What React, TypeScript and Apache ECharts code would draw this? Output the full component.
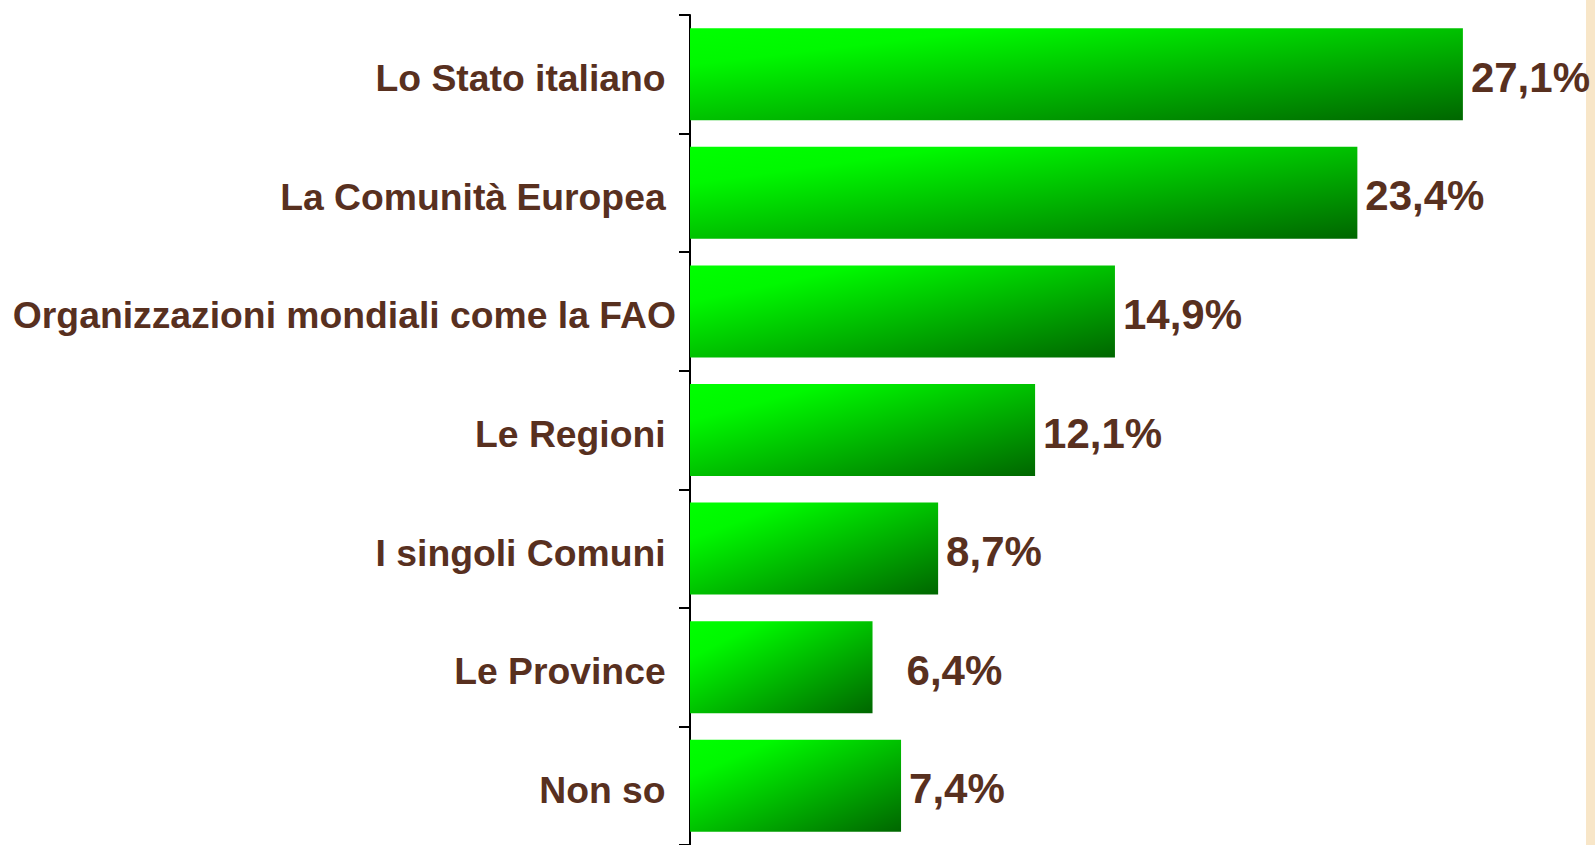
import React, { useEffect, useRef } from "react";
import * as echarts from "echarts";

const categories = [
  "Lo Stato italiano ",
  "La Comunità Europea ",
  "Organizzazioni mondiali come la FAO",
  "Le Regioni ",
  "I singoli Comuni ",
  "Le Province ",
  "Non so ",
];
const values = [27.1, 23.4, 14.9, 12.1, 8.7, 6.4, 7.4];

const BROWN = "#58301f";
const FONT = "'Liberation Sans', Arial, sans-serif";

export default function App() {
  const ref = useRef<HTMLDivElement>(null);
  useEffect(() => {
    document.body.style.margin = "0";
    const chart = echarts.init(ref.current!, null, { renderer: "svg" });
    chart.setOption({
      animation: false,
      backgroundColor: "#ffffff",
      grid: { left: 690, top: 15, width: 855.6, height: 835, containLabel: false },
      xAxis: { type: "value", min: 0, max: 30, show: false },
      yAxis: {
        type: "category",
        inverse: true,
        data: categories,
        axisLine: { show: true, lineStyle: { color: "#000", width: 2 } },
        axisTick: { show: true, length: 11, lineStyle: { color: "#000", width: 2 } },
        axisLabel: {
          margin: 14,
          color: BROWN,
          fontSize: 37.3,
          fontWeight: "bold",
          fontFamily: FONT,
          verticalAlign: "top",
          lineHeight: 8,
        },
      },
      series: [
        {
          type: "bar",
          data: values.map((v, i) =>
            i === 5 ? { value: v, label: { distance: 34 } } : { value: v }
          ),
          barWidth: 92,
          itemStyle: {
            color: new echarts.graphic.LinearGradient(0, 0, 1, 1, [
              { offset: 0, color: "#00ff00" },
              { offset: 0.2, color: "#00f800" },
              { offset: 1, color: "#006600" },
            ]),
          },
          label: {
            show: true,
            position: "right",
            distance: 8,
            offset: [0, 3],
            color: BROWN,
            fontSize: 42,
            fontWeight: "bold",
            fontFamily: FONT,
            formatter: (p: any) => p.value.toFixed(1).replace(".", ",") + "%",
          },
        },
      ],
      graphic: [
        {
          type: "rect",
          shape: { x: 1586, y: 0, width: 9, height: 845 },
          style: { fill: "#f8e6c8" },
          silent: true,
        },
      ],
    });
    return () => chart.dispose();
  }, []);
  return <div ref={ref} style={{ width: 1595, height: 845 }} />;
}
